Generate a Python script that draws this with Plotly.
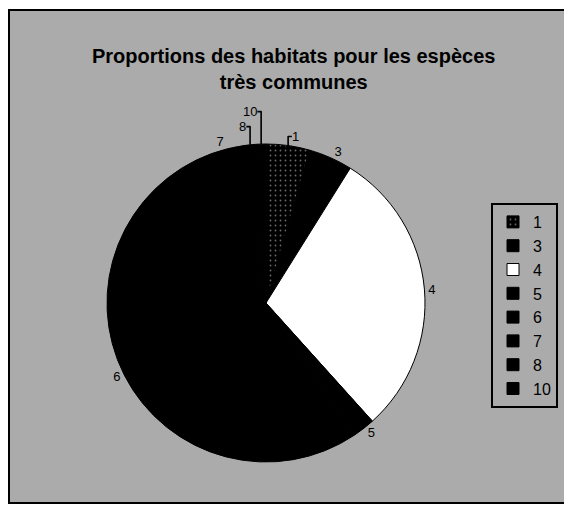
import plotly.graph_objects as go

categories = ["1", "3", "4", "5", "6", "7", "8", "10"]
values = [16, 16, 106, 8, 194, 12, 4.5, 3.5]
colors = ["#000000", "#000000", "#ffffff", "#000000", "#000000", "#000000", "#000000", "#000000"]
patterns = [".", "", "", "", "", "", "", ""]

title_text = "Proportions des habitats pour les espèces<br>très communes"

W, H = 572, 506
bg = "#ababab"

fig = go.Figure()
fig.add_trace(go.Pie(
    labels=categories,
    values=values,
    sort=False,
    direction="clockwise",
    rotation=0,
    textinfo="label",
    textposition="outside",
    textfont=dict(family="Liberation Sans, Arial", size=13, color="black"),
    marker=dict(colors=colors, line=dict(color="black", width=1),
                pattern=dict(shape=patterns, fgcolor="#6a6a6a", bgcolor="#000000",
                             size=5, solidity=0.1)),
    domain=dict(x=[99 / W, 417 / W], y=[52 / H, 370 / H]),
    hoverinfo="label+percent",
    showlegend=True,
))

fig.update_layout(
    width=W, height=H,
    margin=dict(l=0, r=0, t=0, b=0),
    paper_bgcolor="white",
    plot_bgcolor="white",
    font=dict(family="Liberation Sans, Arial", color="black"),
    shapes=[dict(type="rect", xref="paper", yref="paper",
                 x0=1 / W, x1=1.0, y0=1 - 495 / H, y1=1 - 2 / H,
                 fillcolor=bg, line=dict(color="black", width=2), layer="below")],
    annotations=[dict(text="<b>" + title_text + "</b>", xref="paper", yref="paper",
                      x=285 / W, y=1 - 61 / H, xanchor="center", yanchor="middle",
                      showarrow=False, font=dict(size=20, color="black"))],
    legend=dict(x=550 / W, y=1 - 195 / H, xanchor="right", yanchor="top",
                bgcolor="rgba(0,0,0,0)", bordercolor="black", borderwidth=2,
                font=dict(size=16, color="black"), itemwidth=30),
)

fig.write_html("out.html")
